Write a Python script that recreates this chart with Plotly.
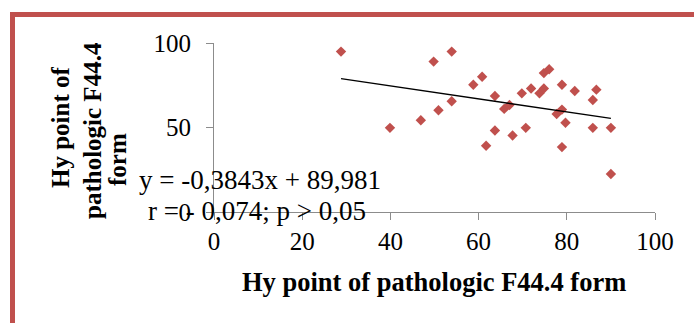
import plotly.graph_objects as go

# data
x_vals = [28.8, 39.9, 46.9, 49.8, 50.9, 53.9, 53.9, 58.8, 60.8, 61.7, 63.7, 63.7, 65.8, 67.0,
          67.7, 69.8, 70.7, 71.9, 73.8, 74.8, 74.8, 76.0, 77.7, 78.9, 78.9, 79.7, 78.9, 81.8,
          85.9, 86.7, 85.9, 90.0, 90.0]
y_vals = [94.9, 49.8, 54.3, 89.0, 60.2, 94.9, 65.5, 75.3, 80.0, 39.2, 68.6, 48.2, 61.0, 63.3,
          45.3, 70.2, 49.8, 73.1, 70.2, 73.1, 82.2, 84.5, 58.0, 75.3, 60.6, 52.8, 38.4, 71.6,
          66.3, 72.4, 49.8, 49.8, 22.5]
slope = -0.3843
intercept = 89.981
x_ticks = [0, 20, 40, 60, 80, 100]
y_ticks = [0, 50, 100]
eq_text = "y = -0,3843x + 89,981"
r_text = "r = - 0,074; p > 0,05"
x_title = "Hy point of pathologic F44.4 form"
y_title_lines = ["Hy point of", "pathologic F44.4", "form"]

W, H = 694, 323
L, R, T, B = 214, 39, 43, 111
pw, ph = W - L - R, H - T - B

def px(xp):
    return (xp - L) / pw

def py(yp):
    return (H - B - yp) / ph

xmin, xmax = min(x_vals), max(x_vals)

fig = go.Figure()
fig.add_trace(go.Scatter(
    x=x_vals, y=y_vals, mode="markers",
    marker=dict(symbol="diamond", size=8, color="#C0504D"),
    showlegend=False, cliponaxis=False))
fig.add_trace(go.Scatter(
    x=[xmin, xmax], y=[slope * xmin + intercept, slope * xmax + intercept],
    mode="lines", line=dict(color="black", width=1.3), showlegend=False))

serif = "Liberation Serif"
axis_common = dict(showgrid=False, zeroline=False, showline=True, linecolor="#8c8c8c",
                   linewidth=1, ticks="outside", tickcolor="#8c8c8c", ticklen=7,
                   tickfont=dict(family=serif, size=25, color="black"))
fig.update_xaxes(range=[0, 100], tickvals=x_ticks, **axis_common)
fig.update_yaxes(range=[0, 100], tickvals=y_ticks, ticklabelstandoff=10, **axis_common)

ann = []
ann.append(dict(x=px(137), y=py(180), xref="paper", yref="paper", text=eq_text,
                showarrow=False, xanchor="left", yanchor="middle",
                font=dict(family=serif, size=27, color="black")))
ann.append(dict(x=px(146), y=py(211), xref="paper", yref="paper", text=r_text,
                showarrow=False, xanchor="left", yanchor="middle",
                font=dict(family=serif, size=27, color="black")))
ann.append(dict(x=px(434), y=py(282), xref="paper", yref="paper", text="<b>" + x_title + "</b>",
                showarrow=False, xanchor="center", yanchor="middle",
                font=dict(family=serif, size=26.5, color="black")))
for txt, cx, cy in zip(y_title_lines, [60, 92, 117], [127, 131, 160]):
    ann.append(dict(x=px(cx), y=py(cy), xref="paper", yref="paper", text="<b>" + txt + "</b>",
                    showarrow=False, xanchor="center", yanchor="middle", textangle=-90,
                    font=dict(family=serif, size=25, color="black")))

fig.update_layout(
    width=W, height=H, margin=dict(l=L, r=R, t=T, b=B),
    paper_bgcolor="white", plot_bgcolor="white",
    annotations=ann,
    shapes=[dict(type="rect", xref="paper", yref="paper",
                 x0=px(12.5), x1=px(760), y0=py(14.5), y1=py(400),
                 line=dict(color="#C0504D", width=5), fillcolor="rgba(0,0,0,0)")])

fig.write_html("out.html")
